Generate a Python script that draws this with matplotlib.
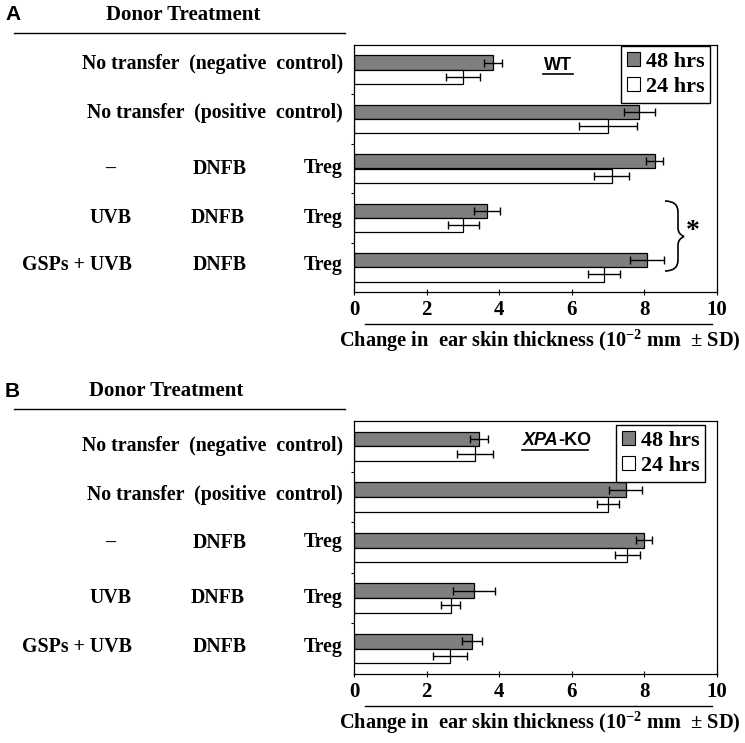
import numpy as np
import matplotlib
matplotlib.use('Agg')
import matplotlib.pyplot as plt
from matplotlib.path import Path
from matplotlib.patches import PathPatch, Patch
from matplotlib.lines import Line2D
import matplotlib.transforms as mtransforms

plt.rcParams['font.family'] = ['Liberation Serif', 'DejaVu Serif']
plt.rcParams['font.weight'] = 'bold'
plt.rcParams['mathtext.default'] = 'regular'

# data (10^-2 mm)
n_groups = 5
wt_48 = [3.82, 7.86, 8.28, 3.67, 8.06]
wt_48_sd = [0.25, 0.43, 0.24, 0.36, 0.47]
wt_24 = [3.01, 6.99, 7.10, 3.01, 6.88]
wt_24_sd = [0.47, 0.80, 0.48, 0.43, 0.44]

ko_48 = [3.45, 7.48, 7.99, 3.31, 3.25]
ko_48_sd = [0.25, 0.45, 0.22, 0.58, 0.28]
ko_24 = [3.33, 6.99, 7.53, 2.67, 2.64]
ko_24_sd = [0.49, 0.30, 0.34, 0.26, 0.47]

xticks = [0, 2, 4, 6, 8, 10]
series_names = ['48 hrs', '24 hrs']
# row labels: (text, x in px, alignment)
row_labels = [
    [('No transfer  (negative  control)', 343, 'right')],
    [('No transfer  (positive  control)', 343, 'right')],
    [('\u2013', 110, 'center'), ('DNFB', 220, 'center'), ('Treg', 343, 'right')],
    [('UVB', 110, 'center'), ('DNFB', 218, 'center'), ('Treg', 343, 'right')],
    [('GSPs + UVB', 77, 'center'), ('DNFB', 220, 'center'), ('Treg', 343, 'right')],
]

W, H = 745, 743
fig = plt.figure(figsize=(W / 100, H / 100), dpi=100)
gray = '#7f7f7f'


def fx(px):
    return px / W


def fy(py):
    return 1 - py / H


def panel(top, bottom, v48, s48, v24, s24, letter, head_x, legend_anchor, row_shift):
    ax = fig.add_axes([fx(354), fy(bottom), fx(717) - fx(354), fy(top) - fy(bottom)])
    y = np.arange(n_groups)
    h = 0.29
    ax.barh(y - h / 2, v48, height=h, color=gray, edgecolor='black', linewidth=0.9,
            xerr=s48, error_kw=dict(ecolor='black', elinewidth=1, capsize=3, capthick=1),
            label=series_names[0])
    ax.barh(y + h / 2, v24, height=h, color='white', edgecolor='black', linewidth=0.9,
            xerr=s24, error_kw=dict(ecolor='black', elinewidth=1, capsize=3, capthick=1),
            label=series_names[1])
    ax.set_xlim(0, 10)
    ax.set_ylim(n_groups - 0.5, -0.5)
    ax.set_xticks(xticks)
    ax.set_xticklabels([str(t) for t in xticks], fontsize=15, fontweight='bold')
    ax.set_yticks([])
    ax.set_yticks(np.arange(n_groups - 1) + 0.5, minor=True)
    ax.tick_params(axis='y', which='minor', direction='out', length=2, width=0.8)
    ax.tick_params(axis='x', direction='inout', length=5, width=0.8, pad=3)
    for s in ax.spines.values():
        s.set_linewidth(0.9)

    leg = ax.legend(handles=[Patch(facecolor=gray, edgecolor='black', linewidth=0.8),
                             Patch(facecolor='white', edgecolor='black', linewidth=0.8)],
                    labels=series_names, loc='upper right', bbox_to_anchor=legend_anchor,
                    borderaxespad=0, fancybox=False, edgecolor='black', framealpha=1,
                    handlelength=0.6, handleheight=0.6, handletextpad=0.25,
                    borderpad=0.25, labelspacing=0.25,
                    prop=dict(family='Liberation Serif', weight='bold', size=16))
    leg.get_frame().set_linewidth(1.0)

    # row labels
    tr = mtransforms.blended_transform_factory(fig.transFigure, ax.transData)
    off = mtransforms.ScaledTranslation(0, 0, fig.dpi_scale_trans)
    for i, items in enumerate(row_labels):
        for txt, px, ha in items:
            t = tr + mtransforms.ScaledTranslation(0, row_shift[i] / 100, fig.dpi_scale_trans)
            ax.text(fx(px), i, txt, transform=t, ha=ha, va='center',
                    fontsize=14.3, fontweight='bold', clip_on=False)

    # header
    fig.text(fx(5), fy(top - 30), letter, family='Liberation Sans', fontsize=15,
             fontweight='bold', ha='left', va='center')
    fig.text(fx(head_x), fy(top - 30), 'Donor Treatment', fontsize=15, fontweight='bold',
             ha='center', va='center')
    fig.add_artist(Line2D([fx(14), fx(345)], [fy(top - 12), fy(top - 12)],
                          color='black', linewidth=1))
    # x label
    fig.add_artist(Line2D([fx(365), fx(712)], [fy(bottom + 32), fy(bottom + 32)],
                          color='black', linewidth=1))
    fig.text(fx(540), fy(bottom + 49), 'Change in  ear skin thickness (10$^{-2}$ mm  \u00b1 SD)',
             fontsize=14.7, fontweight='bold', ha='center', va='center')
    return ax


axA = panel(45, 292, wt_48, wt_48_sd, wt_24, wt_24_sd, 'A', 183, (0.981, 0.996),
            [6, 6, 0, 0, 2])
axB = panel(421, 674, ko_48, ko_48_sd, ko_24, ko_24_sd, 'B', 166, (0.967, 0.984),
            [0, 2, 5, 0, 2])

# genotype labels
fig.text(fx(558), fy(66), 'WT', family='Liberation Sans', fontsize=13, fontweight='bold',
         ha='center', va='center')
fig.add_artist(Line2D([fx(543), fx(573)], [fy(74), fy(74)], color='black', linewidth=1.2))
fig.text(fx(558), fy(440), 'XPA', family='Liberation Sans', fontsize=13, fontweight='bold',
         style='italic', ha='right', va='center')
fig.text(fx(558), fy(440), '-KO', family='Liberation Sans', fontsize=13, fontweight='bold',
         ha='left', va='center')
fig.add_artist(Line2D([fx(522), fx(588)], [fy(450), fy(450)], color='black', linewidth=1.2))

# significance brace in panel A
pts = [(665, 201), (678, 201), (678, 212), (678, 228), (678, 234), (684, 236.5),
       (678, 239), (678, 245), (678, 260), (678, 271), (665, 271)]
codes = [Path.MOVETO, Path.CURVE3, Path.CURVE3, Path.LINETO, Path.CURVE3, Path.CURVE3,
         Path.CURVE3, Path.CURVE3, Path.LINETO, Path.CURVE3, Path.CURVE3]
brace = Path([(fx(a), fy(b)) for a, b in pts], codes)
fig.add_artist(PathPatch(brace, transform=fig.transFigure, facecolor='none',
                         edgecolor='black', linewidth=1.2))
fig.text(fx(693), fy(232), '*', fontsize=20, fontweight='bold', ha='center', va='center')

fig.savefig('out.png', dpi=100)
